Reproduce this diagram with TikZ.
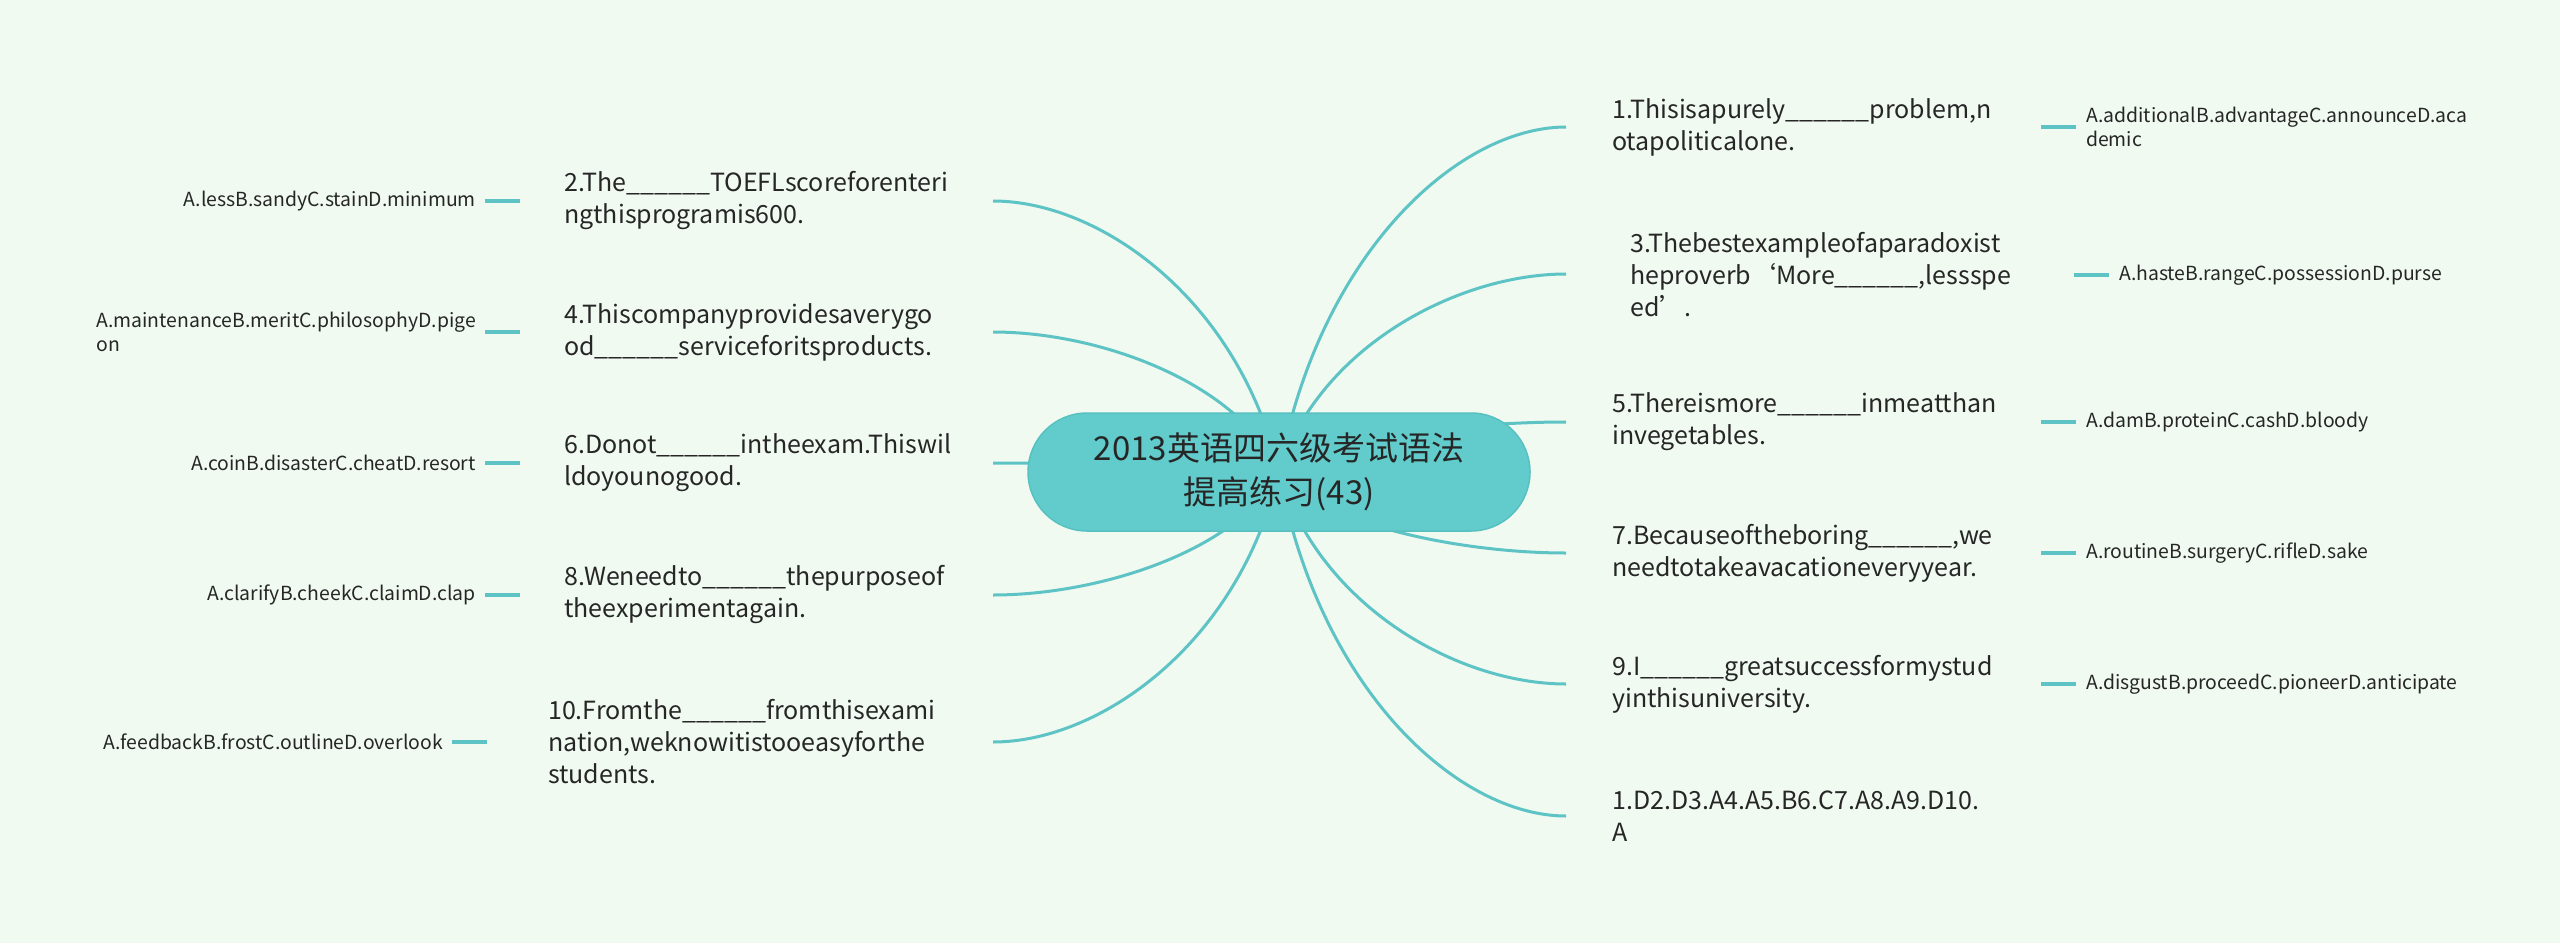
\documentclass[tikz,border=0pt]{standalone}
\usepackage{fontspec}
\setmainfont{Noto Sans CJK SC}
\usetikzlibrary{calc}
\definecolor{bgc}{HTML}{F0FAF0}
\definecolor{rootfill}{HTML}{62CBCB}
\definecolor{rootdraw}{HTML}{58C0C1}
\definecolor{linec}{HTML}{5EC3C5}
\definecolor{txt}{HTML}{262626}
\pgfdeclarelayer{back}
\pgfdeclarelayer{links}
\pgfsetlayers{back,links,main}
\newcommand\mmbranch[1]{\draw[branch] let \p1=(c.center), \p2=(#1) in (\p1) .. controls ({\x1+0.14*(\x2-\x1)},{\y1+0.635*(\y2-\y1)}) and ({\x2+0.375*(\x1-\x2)},{\y2}) .. (\p2);}
\newcommand\blank{\_\_\_\_\_\_}
\begin{document}
\begin{tikzpicture}[x=1pt,y=-1pt,
  qtext/.style={inner sep=0pt, align=left, font=\fontsize{25}{32}\selectfont, text=txt},
  otext/.style={inner sep=0pt, align=left, font=\fontsize{19.4}{24}\selectfont, text=txt},
  branch/.style={draw=linec, line width=3pt},
  subline/.style={draw=linec, line width=3.5pt},
  rootbox/.style={fill=rootfill, draw=rootdraw, line width=1.5pt, rounded corners=59pt,
    minimum width=502pt, minimum height=118pt, align=center,
    font=\fontsize{33}{44}\selectfont, text=txt}]
\useasboundingbox (0,0) rectangle (2560,943);
\begin{pgfonlayer}{back}
\fill[bgc] (0,0) rectangle (2560,943);
\end{pgfonlayer}

\node[rootbox] (c) at (1279,472) {2013英语四六级考试语法\\提高练习(43)};

% branch ends
\coordinate (e1) at (1566,127);
\coordinate (e3) at (1566,274);
\coordinate (e5) at (1566,422);
\coordinate (e7) at (1566,553);
\coordinate (e9) at (1566,684);
\coordinate (eA) at (1566,816);
\coordinate (e2) at (993,201);
\coordinate (e4) at (993,332);
\coordinate (e6) at (993,463);
\coordinate (e8) at (993,595);
\coordinate (e10) at (993,742);

% questions right
\node[qtext, anchor=west] (q1) at (1612,127) {1.Thisisapurely\blank problem,n\\otapoliticalone.};
\node[qtext, anchor=west] (q3) at (1630,275) {3.Thebestexampleofaparadoxist\\heproverb‘More\blank,lessspe\\ed’.};
\node[qtext, anchor=west] (q5) at (1612,422) {5.Thereismore\blank inmeatthan\\invegetables.};
\node[qtext, anchor=west] (q7) at (1612,553) {7.Becauseoftheboring\blank,we\\needtotakeavacationeveryyear.};
\node[qtext, anchor=west] (q9) at (1612,684) {9.I\blank greatsuccessformystud\\yinthisuniversity.};
\node[qtext, anchor=west] (qA) at (1612,816) {1.D2.D3.A4.A5.B6.C7.A8.A9.D10.\\A};
% questions left
\node[qtext, anchor=west] (q2) at (564,201) {2.The\blank TOEFLscoreforenteri\\ngthisprogramis600.};
\node[qtext, anchor=west] (q4) at (564,332) {4.Thiscompanyprovidesaverygo\\od\blank serviceforitsproducts.};
\node[qtext, anchor=west] (q6) at (564,463) {6.Donot\blank intheexam.Thiswil\\ldoyounogood.};
\node[qtext, anchor=west] (q8) at (564,595) {8.Weneedto\blank thepurposeof\\theexperimentagain.};
\node[qtext, anchor=west] (q10) at (548,742) {10.Fromthe\blank fromthisexami\\nation,weknowitistooeasyforthe\\students.};

% options right
\node[otext, anchor=west] (o1) at (2086,127) {A.additionalB.advantageC.announceD.aca\\demic};
\node[otext, anchor=west] (o3) at (2119,275) {A.hasteB.rangeC.possessionD.purse};
\node[otext, anchor=west] (o5) at (2086,422) {A.damB.proteinC.cashD.bloody};
\node[otext, anchor=west] (o7) at (2086,553) {A.routineB.surgeryC.rifleD.sake};
\node[otext, anchor=west] (o9) at (2086,684) {A.disgustB.proceedC.pioneerD.anticipate};
% options left
\node[otext, anchor=east] (o2) at (476,201) {A.lessB.sandyC.stainD.minimum};
\node[otext, anchor=east] (o4) at (476,332) {A.maintenanceB.meritC.philosophyD.pige\\on};
\node[otext, anchor=east] (o6) at (476,463) {A.coinB.disasterC.cheatD.resort};
\node[otext, anchor=east] (o8) at (476,595) {A.clarifyB.cheekC.claimD.clap};
\node[otext, anchor=east] (o10) at (443,742) {A.feedbackB.frostC.outlineD.overlook};

\begin{pgfonlayer}{links}
\mmbranch{e1}\mmbranch{e3}\mmbranch{e5}\mmbranch{e7}\mmbranch{e9}\mmbranch{eA}
\mmbranch{e2}\mmbranch{e4}\mmbranch{e6}\mmbranch{e8}\mmbranch{e10}
\end{pgfonlayer}

% short links question -> options
\foreach \o in {o1,o3,o5,o7,o9}
  \draw[subline] ([xshift=-45pt]\o.west) -- ([xshift=-10pt]\o.west);
\foreach \o in {o2,o4,o6,o8,o10}
  \draw[subline] ([xshift=9pt]\o.east) -- ([xshift=44pt]\o.east);
\end{tikzpicture}
\end{document}
